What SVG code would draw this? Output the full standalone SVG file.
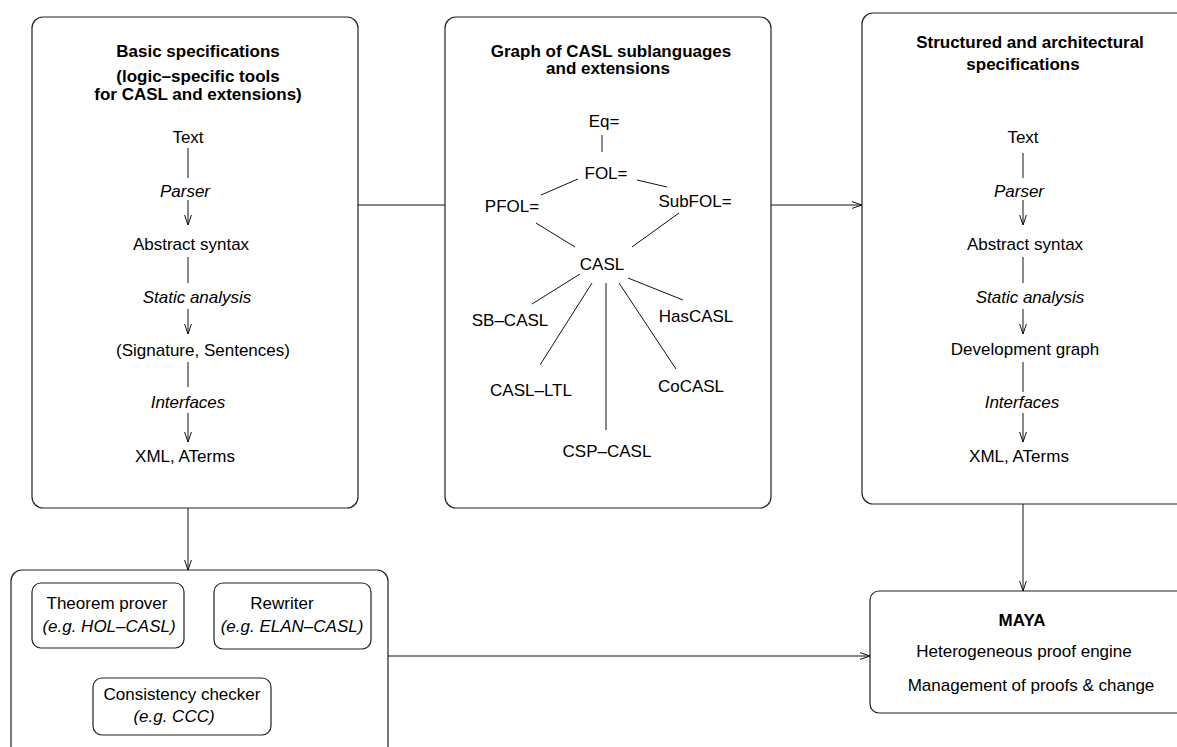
<svg xmlns="http://www.w3.org/2000/svg" width="1177" height="747" viewBox="0 0 1177 747">
<style>
text{font-family:"Liberation Sans",Arial,sans-serif;font-size:17px;fill:#000;text-anchor:middle}
.b{font-weight:bold}
.i{font-style:italic}
.box{fill:none;stroke:#222;stroke-width:1.2}
.ln{fill:none;stroke:#111;stroke-width:1}
</style>
<defs>
<marker id="ar" markerUnits="userSpaceOnUse" markerWidth="12" markerHeight="12" refX="10" refY="5" orient="auto" viewBox="0 0 12 10">
<path d="M0,1.6 L10,5 L0,8.4" fill="none" stroke="#111" stroke-width="1"/>
</marker>
</defs>
<rect width="1177" height="747" fill="#fff"/>

<g id="basic">
<rect class="box" x="32" y="17" width="326" height="491" rx="11"/>
<text class="b" x="198" y="57">Basic specifications</text>
<text class="b" x="198" y="82">(logic–specific tools</text>
<text class="b" x="198" y="100">for CASL and extensions)</text>
<text x="188" y="143">Text</text>
<text class="i" x="185" y="197">Parser</text>
<text x="191" y="250">Abstract syntax</text>
<text class="i" x="197" y="303">Static analysis</text>
<text x="203" y="356">(Signature, Sentences)</text>
<text class="i" x="188" y="408">Interfaces</text>
<text x="185" y="462">XML, ATerms</text>
<line class="ln" x1="188" y1="148" x2="188" y2="178"/>
<line class="ln" x1="188" y1="200" x2="188" y2="225" marker-end="url(#ar)"/>
<line class="ln" x1="188" y1="257" x2="188" y2="283"/>
<line class="ln" x1="188" y1="309" x2="188" y2="334" marker-end="url(#ar)"/>
<line class="ln" x1="188" y1="362" x2="188" y2="387"/>
<line class="ln" x1="188" y1="413" x2="188" y2="442" marker-end="url(#ar)"/>
</g>

<g id="graph">
<rect class="box" x="445" y="17" width="326" height="491" rx="11"/>
<text class="b" x="611" y="57">Graph of CASL sublanguages</text>
<text class="b" x="608" y="74">and extensions</text>
<text x="604" y="127">Eq=</text>
<text x="606" y="179">FOL=</text>
<text x="512" y="212">PFOL=</text>
<text x="695" y="207">SubFOL=</text>
<text x="602" y="270">CASL</text>
<text x="510" y="326">SB–CASL</text>
<text x="696" y="322">HasCASL</text>
<text x="531" y="396">CASL–LTL</text>
<text x="691" y="392">CoCASL</text>
<text x="607" y="457">CSP–CASL</text>
<line class="ln" x1="602" y1="135" x2="602" y2="152"/>
<line class="ln" x1="578" y1="179" x2="541" y2="195"/>
<line class="ln" x1="637" y1="180" x2="667" y2="187"/>
<line class="ln" x1="536" y1="223" x2="575" y2="247"/>
<line class="ln" x1="679" y1="213" x2="632" y2="247"/>
<line class="ln" x1="580" y1="274" x2="532" y2="304"/>
<line class="ln" x1="592" y1="283" x2="540" y2="365"/>
<line class="ln" x1="606" y1="283" x2="606" y2="430"/>
<line class="ln" x1="619" y1="283" x2="676" y2="369"/>
<line class="ln" x1="628" y1="278" x2="683" y2="300"/>
</g>

<g id="structured">
<rect class="box" x="862" y="13" width="340" height="491" rx="11"/>
<text class="b" x="1030" y="48">Structured and architectural</text>
<text class="b" x="1023" y="70">specifications</text>
<text x="1023" y="143">Text</text>
<text class="i" x="1019" y="197">Parser</text>
<text x="1025" y="250">Abstract syntax</text>
<text class="i" x="1030" y="303">Static analysis</text>
<text x="1025" y="355">Development graph</text>
<text class="i" x="1022" y="408">Interfaces</text>
<text x="1019" y="462">XML, ATerms</text>
<line class="ln" x1="1023" y1="153" x2="1023" y2="178"/>
<line class="ln" x1="1023" y1="200" x2="1023" y2="225" marker-end="url(#ar)"/>
<line class="ln" x1="1023" y1="257" x2="1023" y2="283"/>
<line class="ln" x1="1023" y1="309" x2="1023" y2="334" marker-end="url(#ar)"/>
<line class="ln" x1="1023" y1="362" x2="1023" y2="392"/>
<line class="ln" x1="1023" y1="413" x2="1023" y2="442" marker-end="url(#ar)"/>
</g>

<g id="tools">
<rect class="box" x="11" y="570" width="377" height="200" rx="11"/>
</g>
<g id="theorem">
<rect class="box" x="32" y="583" width="152" height="65" rx="9"/>
<text x="107" y="609">Theorem prover</text>
<text class="i" x="109" y="632">(e.g. HOL–CASL)</text>
</g>
<g id="rewriter">
<rect class="box" x="214" y="583" width="157" height="66" rx="9"/>
<text x="282" y="609">Rewriter</text>
<text class="i" x="292" y="632">(e.g. ELAN–CASL)</text>
</g>
<g id="consistency">
<rect class="box" x="93" y="678" width="178" height="57" rx="9"/>
<text x="182" y="700">Consistency checker</text>
<text class="i" x="174" y="722">(e.g. CCC)</text>
</g>

<g id="maya">
<rect class="box" x="870" y="591" width="340" height="122" rx="9"/>
<text class="b" x="1022" y="626">MAYA</text>
<text x="1024" y="657">Heterogeneous proof engine</text>
<text x="1031" y="691">Management of proofs &amp; change</text>
</g>

<g id="connectors">
<line class="ln" x1="358" y1="205" x2="445" y2="205"/>
<line class="ln" x1="771" y1="205" x2="862" y2="205" marker-end="url(#ar)"/>
<line class="ln" x1="188" y1="508" x2="188" y2="570" marker-end="url(#ar)"/>
<line class="ln" x1="1023" y1="504" x2="1023" y2="591" marker-end="url(#ar)"/>
<line class="ln" x1="388" y1="656" x2="870" y2="656" marker-end="url(#ar)"/>
</g>
</svg>
